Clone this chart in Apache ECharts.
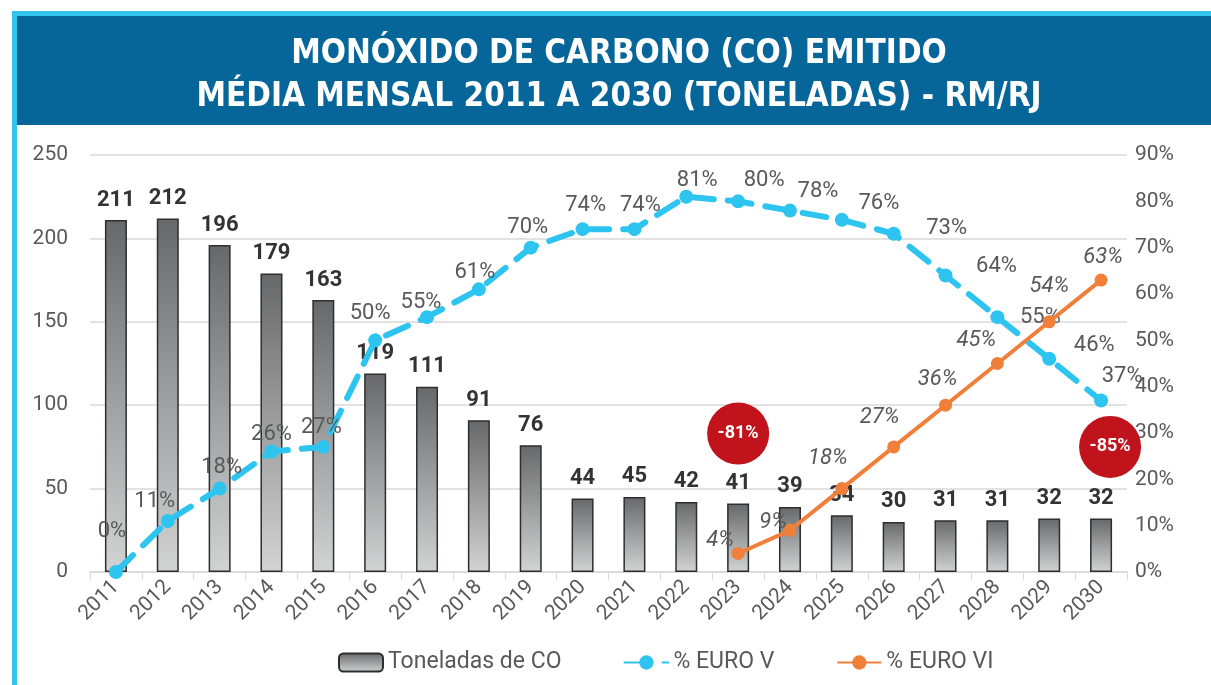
<!DOCTYPE html>
<html>
<head>
<meta charset="utf-8">
<title>Monóxido de Carbono (CO) emitido</title>
<script src="https://cdn.jsdelivr.net/npm/echarts@6/dist/echarts.min.js"></script>
<style>
  html, body { margin: 0; padding: 0; background: #fff; }
  #chart { width: 1211px; height: 685px; }
</style>
</head>
<body>
<div id="chart"></div>
<script>
// dados
const years = ['2011', '2012', '2013', '2014', '2015', '2016', '2017', '2018', '2019', '2020',
               '2021', '2022', '2023', '2024', '2025', '2026', '2027', '2028', '2029', '2030'];
const toneladasCO = [211, 212, 196, 179, 163, 119, 111, 91, 76, 44, 45, 42, 41, 39, 34, 30, 31, 31, 32, 32];
const euroV = [0, 11, 18, 26, 27, 50, 55, 61, 70, 74, 74, 81, 80, 78, 76, 73, 64, 55, 46, 37];
const euroVI = ['-', '-', '-', '-', '-', '-', '-', '-', '-', '-', '-', '-', 4, 9, 18, 27, 36, 45, 54, 63];
const leftTicks = [0, 250, 50];   // min, max, intervalo
const rightTicks = [0, 90, 10];
// selos vermelhos (ano, nível no eixo esquerdo, texto)
const badgeYears = ['2023', '2030'];
const badgeLevels = [83, 75];
const badgeTexts = ['-81%', '-85%'];

// deslocamento dos rótulos (estilo, como no Excel)
const shiftV = [[-4, -18], [-13, 3], [2, 2], [0, 6], [-2, 4], [-5, -4], [-6, 8], [-4, 6], [-3, 3], [3, -1],
                [6, -1], [11, 7], [26, 2], [28, 4], [37, 7], [53, 18], [51, 14], [43, 23], [45, 10], [21, -1]];
const shiftVI = {12: [-18, 10], 13: [-17, 15], 14: [-14, -8], 15: [-14, -7], 16: [-8, -3], 17: [-21, -1], 18: [0, -13], 19: [2, 0]};

const gray = '#595959';
const baseFont = 'Roboto, "Liberation Sans", Arial, sans-serif';

const barFill = new echarts.graphic.LinearGradient(0, 0, 0, 1, [
    { offset: 0, color: '#66696b' },
    { offset: 1, color: '#d2d3d3' }
]);

const euroVData = euroV.map((v, i) => ({
    value: v,
    label: { offset: shiftV[i] }
}));
const euroVIData = euroVI.map((v, i) => (v === '-' ? '-' : {
    value: v,
    label: { offset: shiftVI[i] || [0, 0] }
}));

const option = {
    animation: false,
    textStyle: { fontFamily: baseFont },
    graphic: [
        // moldura azul clara
        { type: 'rect', shape: { x: 12, y: 11, width: 1199, height: 5 }, style: { fill: '#33c3ef' }, z: 0 },
        { type: 'rect', shape: { x: 12, y: 11, width: 5, height: 674 }, style: { fill: '#33c3ef' }, z: 0 },
        // faixa do título
        { type: 'rect', shape: { x: 17, y: 16, width: 1194, height: 109 }, style: { fill: '#066699' }, z: 0 }
    ],
    title: {
        text: 'MONÓXIDO DE CARBONO (CO) EMITIDO\nMÉDIA MENSAL 2011 A 2030 (TONELADAS) - RM/RJ',
        left: 614,
        top: 28,
        textAlign: 'center',
        textStyle: {
            color: '#fff',
            fontFamily: '"DejaVu Sans Condensed", "Liberation Sans Narrow", Arial, sans-serif',
            fontWeight: 'bold',
            fontSize: 33,
            lineHeight: 43
        }
    },
    grid: { left: 90, right: 84, top: 155, bottom: 113 },
    legend: {
        bottom: 6,
        left: 333,
        itemWidth: 44,
        itemHeight: 18,
        itemGap: 62,
        textStyle: { color: gray, fontSize: 23, fontFamily: baseFont },
        data: ['Toneladas de CO', '% EURO V', '% EURO VI']
    },
    xAxis: {
        type: 'category',
        data: years,
        axisLine: { lineStyle: { color: '#d9d9d9', width: 1.5 } },
        axisTick: { show: true, length: 8, lineStyle: { color: '#d9d9d9' } },
        axisLabel: { rotate: 45, color: gray, fontSize: 21, margin: 12 }
    },
    yAxis: [{
        type: 'value',
        min: leftTicks[0],
        max: leftTicks[1],
        interval: leftTicks[2],
        axisLine: { show: false },
        axisTick: { show: false },
        splitLine: { lineStyle: { color: '#d9d9d9', width: 1.5 } },
        axisLabel: { color: gray, fontSize: 21, margin: 22 }
    }, {
        type: 'value',
        min: rightTicks[0],
        max: rightTicks[1],
        interval: rightTicks[2],
        axisLine: { show: false },
        axisTick: { show: false },
        splitLine: { show: false },
        axisLabel: { color: gray, fontSize: 21, margin: 8, formatter: '{value}%' }
    }],
    series: [{
        name: 'Toneladas de CO',
        type: 'bar',
        data: toneladasCO,
        barWidth: 22,
        itemStyle: { color: barFill, borderColor: '#2e2e2e', borderWidth: 1.5 },
        label: {
            show: true,
            position: 'top',
            distance: 9,
            color: '#333',
            fontWeight: 'bold',
            fontSize: 22
        },
        markPoint: {
            symbol: 'circle',
            symbolSize: 62,
            itemStyle: { color: '#c0131c' },
            label: { show: true, color: '#fff', fontWeight: 'bold', fontSize: 18, formatter: '{b}' },
            data: badgeYears.map((y, i) => ({
                name: badgeTexts[i],
                coord: [y, badgeLevels[i]],
                symbolOffset: i === 1 ? [9, 0] : [0, 0]
            }))
        },
        z: 2
    }, {
        name: '% EURO V',
        type: 'line',
        yAxisIndex: 1,
        data: euroVData,
        symbol: 'circle',
        symbolSize: 14,
        itemStyle: { color: '#2ec4f0' },
        lineStyle: { color: '#2ec4f0', width: 6, type: [24, 14], cap: 'round' },
        label: {
            show: true,
            position: 'top',
            color: gray,
            fontSize: 22,
            formatter: '{c}%'
        },
        z: 3
    }, {
        name: '% EURO VI',
        type: 'line',
        yAxisIndex: 1,
        data: euroVIData,
        symbol: 'circle',
        symbolSize: 13,
        itemStyle: { color: '#f07f3a' },
        lineStyle: { color: '#f07f3a', width: 4 },
        label: {
            show: true,
            position: 'top',
            color: gray,
            fontSize: 22,
            fontStyle: 'italic',
            formatter: '{c}%'
        },
        z: 4
    }]
};

const myChart = echarts.init(document.getElementById('chart'));
myChart.setOption(option);
window.addEventListener('resize', myChart.resize);
</script>
</body>
</html>
